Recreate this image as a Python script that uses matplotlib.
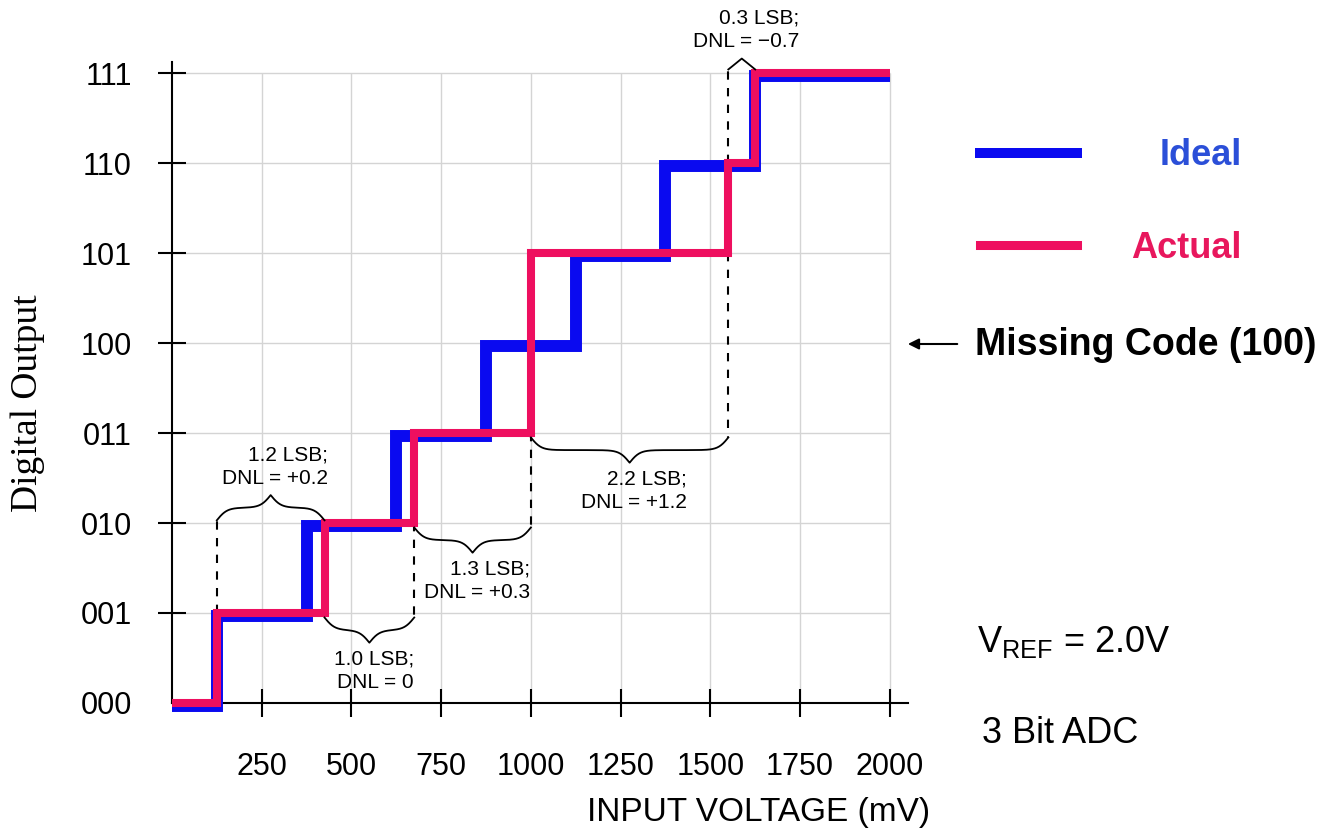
import numpy as np
import matplotlib
matplotlib.use("Agg")
import matplotlib.pyplot as plt
import matplotlib.transforms as mtransforms
from matplotlib.lines import Line2D

plt.rcParams['font.family'] = ['Liberation Sans', 'DejaVu Sans']
plt.rcParams['mathtext.fontset'] = 'custom'
plt.rcParams['mathtext.rm'] = 'Liberation Sans'

# data
codes = ['000', '001', '010', '011', '100', '101', '110', '111']
voltage_ticks = [250, 500, 750, 1000, 1250, 1500, 1750, 2000]
v_max = 2000
# input voltage (mV) where the output steps up to code 1..7
ideal_edges = [125, 375, 625, 875, 1125, 1375, 1625]
actual_edges = [125, 425, 675, 1000, 1000, 1550, 1625]   # code 100 has zero width

# DNL notes: which code, level the brace sits on, direction, side of dashed line
note_codes = [1, 2, 3, 5, 6]
note_levels = [2, 1, 2, 3, 7]
note_dirs = [1, -1, -1, -1, 1]
note_dash = ['left', 'right', 'right', 'right', 'left']
note_text = ['1.2 LSB;\nDNL = +0.2', '1.0 LSB;\nDNL = 0', '1.3 LSB;\nDNL = +0.3',
             '2.2 LSB;\nDNL = +1.2', '0.3 LSB;\nDNL = \u22120.7']

RED = '#EE0F5F'
BLUE = '#0A0AF0'

fig = plt.figure(figsize=(13.33, 8.38), dpi=100)
ax = fig.add_axes([0.129, 0.1611, 0.552, 0.8377])
ax.set_xlim(0, 2050)
ax.set_ylim(0, 7.8)

# grid
ax.vlines(voltage_ticks, 0, 7, color='#d4d4d4', lw=1, zorder=0)
ax.hlines(range(1, 8), 0, v_max, color='#d4d4d4', lw=1, zorder=0)

# transfer functions
def steps(edges):
    x = [0] + list(edges) + [v_max]
    y = list(range(len(edges) + 1)) + [len(edges)]
    return x, y

xi, yi = steps(ideal_edges)
xa, ya = steps(actual_edges)
shift = mtransforms.offset_copy(ax.transData, fig=fig, x=0, y=-3, units='dots')
ax.step(xi, yi, where='post', color=BLUE, lw=8.6, transform=shift,
        solid_joinstyle='miter', solid_capstyle='butt', clip_on=False, zorder=3)
ax.step(xa, ya, where='post', color=RED, lw=5.8,
        solid_joinstyle='miter', solid_capstyle='butt', clip_on=False, zorder=4)

# braces with DNL notes
def brace(x0, x1, y0, d, h):
    xs = np.linspace(x0, x1, 301)
    half = xs[:151]
    beta = 0.07
    s = 1 / (1 + np.exp(-beta * (half - half[0]))) + 1 / (1 + np.exp(-beta * (half - half[-1])))
    s = np.concatenate([s, s[-2::-1]])
    ax.plot(xs, y0 + d * h * (s - 0.5), color='black', lw=1.3, clip_on=False, zorder=5)

edges_all = [0] + actual_edges + [v_max]
for c, lev, d, side, txt in zip(note_codes, note_levels, note_dirs, note_dash, note_text):
    x0, x1 = edges_all[c], edges_all[c + 1]
    h = 0.28 if x1 - x0 > 100 else 0.14
    base = lev + 0.03 if d > 0 else lev - 0.05
    brace(x0, x1, base, d, h)
    xd = x0 if side == 'left' else x1
    ax.plot([xd, xd], [c, base], color='black', lw=1.5, ls=(0, (4, 4)), zorder=2)
    ty = base + d * (h + 0.08)
    ax.text((x0 + x1) / 2 + 12, ty, txt, ha='center', va='bottom' if d > 0 else 'top',
            multialignment='right', fontsize=15, linespacing=1.3, clip_on=False, zorder=6)

# axes styling
for s in ['top', 'right']:
    ax.spines[s].set_visible(False)
ax.spines['left'].set_bounds(0, 7.12)
ax.spines['left'].set_linewidth(1.5)
ax.spines['bottom'].set_linewidth(1.5)
ax.set_xticks(voltage_ticks)
ax.set_xticklabels([str(v) for v in voltage_ticks], fontsize=22)
ax.set_yticks(range(len(codes)))
ax.set_yticklabels(codes, fontsize=22)
ax.tick_params(direction='inout', length=20, width=1.5)
ax.tick_params(axis='x', pad=25)
ax.tick_params(axis='y', pad=19)
ax.yaxis.get_major_ticks()[0].tick1line.set_visible(False)

fig.text(0.021, 0.519, 'Digital Output', rotation=90, ha='center', va='center',
         fontsize=27, family='Liberation Serif')
fig.text(0.6977, 0.031, 'INPUT VOLTAGE (mV)', ha='right', va='center', fontsize=24)

# legend and notes on the right
fig.add_artist(Line2D([0.7352, 0.808], [0.8174, 0.8174], color=BLUE, lw=7.2))
fig.add_artist(Line2D([0.7352, 0.808], [0.7076, 0.7076], color=RED, lw=6.5))
fig.text(0.9317, 0.815, 'Ideal', ha='right', va='center', fontsize=26,
         fontweight='bold', color='#2B4FD8')
fig.text(0.9317, 0.704, 'Actual', ha='right', va='center', fontsize=26,
         fontweight='bold', color='#E8175D')
fig.add_artist(matplotlib.patches.FancyArrowPatch((0.7202, 0.5895), (0.679, 0.5895),
               transform=fig.transFigure, arrowstyle='-|>', mutation_scale=16,
               color='black', lw=1.5))
fig.text(0.7314, 0.5885, 'Missing Code (100)', ha='left', va='center', fontsize=27,
         fontweight='bold')
fig.text(0.733, 0.222, r'V$_{\mathregular{REF}}$ = 2.0V', ha='left', va='baseline', fontsize=26)
fig.text(0.7367, 0.1134, '3 Bit ADC', ha='left', va='baseline', fontsize=26)

fig.savefig('out.png', dpi=100)
